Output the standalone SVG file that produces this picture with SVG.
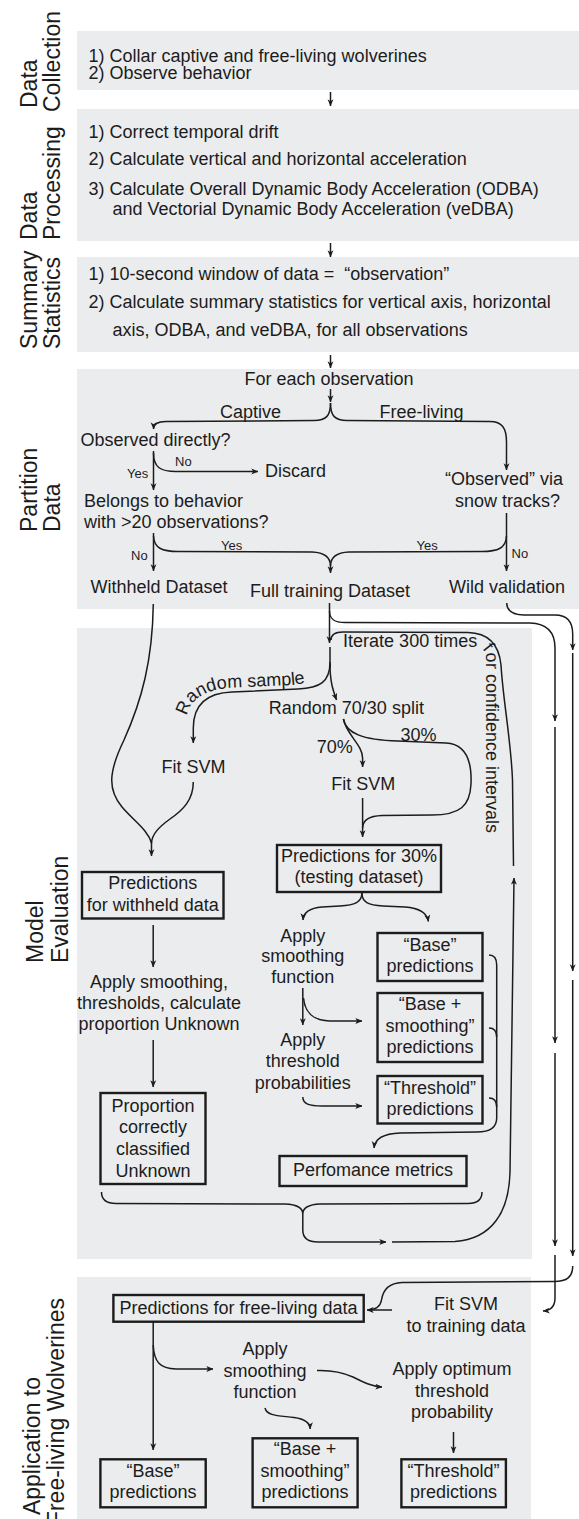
<svg xmlns="http://www.w3.org/2000/svg" width="579" height="1519" viewBox="0 0 579 1519">
<style>
text{font-family:"Liberation Sans",Arial,Helvetica,sans-serif;font-size:18px;fill:#1c1c1c}
.c{text-anchor:middle}
.e{text-anchor:end}
.s{font-size:13px}
.lbl{font-size:23px}
.panel{fill:#ebeced}
.box{fill:none;stroke:#1c1c1c;stroke-width:2.4}
.ln{fill:none;stroke:#1c1c1c;stroke-width:1.5}
.ar{marker-end:url(#ah)}
</style>
<defs>
<marker id="ah" viewBox="0 0 10 10" refX="9.5" refY="5" markerWidth="7" markerHeight="7" markerUnits="userSpaceOnUse" orient="auto">
<path d="M0,0.8 L10,5 L0,9.2 L2.6,5 Z" fill="#1c1c1c"/>
</marker>
<path id="rsPath" d="M187,716 C190,700 204,689 234,687.5 L292,685 C306,684 316,680 321,672"/>
<path id="itPath" d="M343,647 L474,647 Q486,647 486,659 L486,840"/>
</defs>

<!-- stage backgrounds -->
<g id="panels">
<rect class="panel" x="77" y="31" width="502" height="59"/>
<rect class="panel" x="77" y="109" width="502" height="132"/>
<rect class="panel" x="77" y="257" width="502" height="95"/>
<rect class="panel" x="77" y="369" width="502" height="240"/>
<rect class="panel" x="77" y="628" width="455" height="631"/>
<rect class="panel" x="77" y="1277" width="454" height="242"/>
</g>

<!-- stage labels -->
<g id="stage-labels" class="lbl">
<text class="lbl" transform="translate(37,108) rotate(-90)">Data</text>
<text class="lbl" transform="translate(60,112) rotate(-90)">Collection</text>
<text class="lbl" transform="translate(37,240) rotate(-90)">Data</text>
<text class="lbl" transform="translate(60,240) rotate(-90)">Processing</text>
<text class="lbl" transform="translate(37,349) rotate(-90)">Summary</text>
<text class="lbl" transform="translate(60,349) rotate(-90)">Statistics</text>
<text class="lbl" transform="translate(37,532) rotate(-90)">Partition</text>
<text class="lbl" transform="translate(60,532) rotate(-90)">Data</text>
<text class="lbl" transform="translate(42.5,963) rotate(-90)">Model</text>
<text class="lbl" transform="translate(68,963) rotate(-90)">Evaluation</text>
<text class="lbl e" transform="translate(40,1377) rotate(-90)">Application to</text>
<text class="lbl e" transform="translate(64,1298) rotate(-90)">Free-living Wolverines</text>
</g>

<g id="collection">
<text x="88.5" y="62">1) Collar captive and free-living wolverines</text>
<text x="88.5" y="79">2) Observe behavior</text>
</g>

<g id="processing">
<text x="88.5" y="138">1) Correct temporal drift</text>
<text x="88.5" y="165">2) Calculate vertical and horizontal acceleration</text>
<text x="88.5" y="195">3) Calculate Overall Dynamic Body Acceleration (ODBA)</text>
<text x="112.5" y="215">and Vectorial Dynamic Body Acceleration (veDBA)</text>
</g>

<g id="summary">
<text x="88.5" y="280">1) 10-second window of data = &#160;“observation”</text>
<text x="88.5" y="308">2) Calculate summary statistics for vertical axis, horizontal</text>
<text x="112.5" y="336">axis, ODBA, and veDBA, for all observations</text>
</g>

<g id="for-each"><text class="c" x="329" y="385">For each observation</text></g>
<g id="captive-label"><text class="c" x="250.5" y="418">Captive</text></g>
<g id="free-living-label"><text class="c" x="421.5" y="418">Free-living</text></g>
<g id="observed-directly"><text x="80.5" y="446">Observed directly?</text></g>
<g id="discard"><text x="265" y="477">Discard</text></g>
<g id="belongs"><text x="84" y="507">Belongs to behavior</text><text x="84" y="528">with &gt;20 observations?</text></g>
<g id="snow-tracks"><text class="c" x="504" y="485">“Observed” via</text><text class="c" x="507.5" y="507">snow tracks?</text></g>
<g id="withheld-dataset"><text x="90.5" y="593">Withheld Dataset</text></g>
<g id="full-training"><text x="250" y="597">Full training Dataset</text></g>
<g id="wild-validation"><text x="449" y="593">Wild validation</text></g>

<g id="branch-labels" class="s">
<text class="s" x="175" y="466">No</text>
<text class="s" x="127" y="478">Yes</text>
<text class="s" x="131" y="560">No</text>
<text class="s" x="221" y="550">Yes</text>
<text class="s" x="416.5" y="550">Yes</text>
<text class="s" x="511.5" y="558">No</text>
</g>

<g id="iterate-label"><text><textPath href="#itPath">Iterate 300 times for confidence intervals</textPath></text></g>
<g id="random-sample-label"><text><textPath href="#rsPath">Random sample</textPath></text></g>
<g id="split"><text x="268.8" y="714">Random 70/30 split</text></g>
<g id="pct70"><text x="316.8" y="753">70%</text></g>
<g id="pct30"><text x="400.5" y="740.5">30%</text></g>
<g id="fit-svm-a"><text x="161.4" y="772.7">Fit SVM</text></g>
<g id="fit-svm-b"><text x="331.2" y="790">Fit SVM</text></g>

<g id="pred-withheld"><rect class="box" x="82" y="872" width="141.5" height="46.5"/><text class="c" x="152.7" y="888.5">Predictions</text><text class="c" x="152.7" y="910.5">for withheld data</text></g>
<g id="pred-30"><rect class="box" x="277" y="845" width="164" height="47"/><text class="c" x="359" y="862">Predictions for 30%</text><text class="c" x="359" y="883">(testing dataset)</text></g>
<g id="apply-all"><text class="c" x="159" y="988">Apply smoothing,</text><text class="c" x="159" y="1009">thresholds, calculate</text><text class="c" x="159" y="1030">proportion Unknown</text></g>
<g id="apply-smooth-a"><text class="c" x="302.8" y="942">Apply</text><text class="c" x="302.8" y="962">smoothing</text><text class="c" x="302.8" y="983">function</text></g>
<g id="apply-thresh-a"><text class="c" x="302.8" y="1046">Apply</text><text class="c" x="302.8" y="1067">threshold</text><text class="c" x="302.8" y="1089">probabilities</text></g>
<g id="base-a"><rect class="box" x="377.5" y="933" width="105" height="48"/><text class="c" x="430" y="951">“Base”</text><text class="c" x="430" y="972">predictions</text></g>
<g id="base-smooth-a"><rect class="box" x="377.5" y="993" width="105" height="69"/><text class="c" x="430" y="1010">“Base +</text><text class="c" x="430" y="1032">smoothing”</text><text class="c" x="430" y="1053">predictions</text></g>
<g id="threshold-a"><rect class="box" x="377.5" y="1076" width="105" height="47.5"/><text class="c" x="430" y="1093.5">“Threshold”</text><text class="c" x="430" y="1115">predictions</text></g>
<g id="proportion"><rect class="box" x="100.5" y="1093" width="105" height="91"/><text class="c" x="153" y="1111.7">Proportion</text><text class="c" x="153" y="1133.3">correctly</text><text class="c" x="153" y="1155">classified</text><text class="c" x="153" y="1176.7">Unknown</text></g>
<g id="performance"><rect class="box" x="279.5" y="1156" width="187" height="30"/><text class="c" x="373" y="1176">Perfomance metrics</text></g>

<g id="pred-free"><rect class="box" x="113.4" y="1295" width="250.3" height="26.7"/><text class="c" x="238.5" y="1314">Predictions for free-living data</text></g>
<g id="fit-svm-final"><text class="c" x="466" y="1310">Fit SVM</text><text class="c" x="466" y="1331.7">to training data</text></g>
<g id="apply-smooth-b"><text class="c" x="265" y="1355">Apply</text><text class="c" x="265" y="1377">smoothing</text><text class="c" x="265" y="1398">function</text></g>
<g id="apply-opt"><text class="c" x="452" y="1375">Apply optimum</text><text class="c" x="452" y="1397">threshold</text><text class="c" x="452" y="1418">probability</text></g>
<g id="base-b"><rect class="box" x="100.4" y="1459.3" width="105.3" height="48"/><text class="c" x="153" y="1476.7">“Base”</text><text class="c" x="153" y="1498.3">predictions</text></g>
<g id="base-smooth-b"><rect class="box" x="252.6" y="1438.3" width="105" height="69"/><text class="c" x="305" y="1455">“Base +</text><text class="c" x="305" y="1476.7">smoothing”</text><text class="c" x="305" y="1498.3">predictions</text></g>
<g id="threshold-b"><rect class="box" x="401.4" y="1459.3" width="104.5" height="48"/><text class="c" x="453.6" y="1476.7">“Threshold”</text><text class="c" x="453.6" y="1498.3">predictions</text></g>

<g id="connectors" class="ln">
<!-- between stages -->
<path class="ln ar" d="M330.5,92 L330.5,106"/>
<path class="ln ar" d="M330.5,243 L330.5,257"/>
<path class="ln ar" d="M330.5,355 L330.5,368"/>
<!-- partition -->
<path class="ln ar" d="M330.5,389 L330.5,402"/>
<path class="ln ar" d="M330.5,403 C330.5,416 326,420.5 314,420.5 L166,421.5 C158,421.5 153.5,424 153.5,429"/>
<path class="ln ar" d="M330.5,403 C330.5,416 335,420.5 347,420.5 L490,421.5 C502,421.5 506.5,428 506.5,442 L506.5,470"/>
<path class="ln ar" d="M153.5,451 L153.5,490"/>
<path class="ln ar" d="M153.5,453 C153.5,467 160,471.5 176,471.5 L258,471.5"/>
<path class="ln ar" d="M153.5,533 L153.5,571"/>
<path class="ln ar" d="M506.5,513 L506.5,571"/>
<path class="ln ar" d="M153.5,536 C154,548 162,551.5 178,551.5 L312,552 C325,552.5 330.5,557 330.5,566 L330.5,573"/>
<path class="ln" d="M506.5,536 C506,548 498,551.5 482,551.5 L349,552 C336,552.5 330.5,557 330.5,566"/>
<!-- training / validation routes -->
<path class="ln ar" d="M329.5,603 L329.5,643"/>
<path class="ln ar" d="M329.5,611 C329.5,619 334,622.5 345,622.5 L530,623 C547,623.5 555,632 555,648 L555,721"/>
<path class="ln ar" d="M506.7,603 C507,611 512,615 524,615 L555,615 C567,615 572.7,622 572.7,634 L572.7,650"/>
<path class="ln ar" d="M555,727 L555,1043"/>
<path class="ln ar" d="M555,1053 L555,1246"/>
<path class="ln ar" d="M555,1255 L555,1298 C555,1306 551,1310.5 543,1311"/>
<path class="ln ar" d="M572.7,653 L572.7,971"/>
<path class="ln ar" d="M572.7,980 L572.7,1256"/>
<path class="ln ar" d="M572.7,1266 C572.7,1277 567,1281.5 554,1281.5 L402,1282.5 C389,1283 383,1290 381.5,1300 C380.5,1306 376,1310 367,1310"/>
<path class="ln" d="M392,1310 L372,1310"/>
<!-- model evaluation -->
<path class="ln" d="M330,647 L330,668"/>
<path class="ln ar" d="M330,662 C330,682 320,688 298,689 L232,692 C206,693 193.3,705 193.3,728 L193.3,743"/>
<path class="ln ar" d="M330,664 C330,682 333,690 336.5,700"/>
<path class="ln ar" d="M343.4,719 C346,734 362.6,745 362.6,758 L362.6,767"/>
<path class="ln" d="M343.4,719 C346,733 362,740 398,741 L446,743 C465,744 472,760 471,784 C470,806 460,815 432,815 L382,815.5 C369,816 362.6,820 362.6,828"/>
<path class="ln ar" d="M362.6,798 L362.6,837"/>
<path class="ln" d="M193.3,782 C193.3,800 183,810 170,819 C159,827 152,834 151.5,843"/>
<path class="ln" d="M153.3,604 C152.5,660 142,700 124,740 C108,773 108,790 122,807 C134,821 148,830 151.5,843"/>
<path class="ln ar" d="M151.5,842 L151.5,856"/>
<path class="ln" d="M331,640 C331,634 335,632 343,632 L468,632.5 C489,633 499,645 501,665 C503,700 511,740 512.5,780 L513.5,866"/>
<path class="ln ar" d="M392,1242 L455,1241.5 C492,1239 509,1212 510,1172 L514,878"/>
<path class="ln ar" d="M302.8,1214 L302.8,1230 C302.8,1238.5 308,1242 318,1242 L386,1242"/>
<path class="ln" d="M101.5,1192 C101.5,1200 106,1203.5 116,1203.5 L285,1204 C297,1204.5 302.8,1208 302.8,1214 C302.8,1208 309,1204.5 320,1204 L468,1203.5 C477,1203.5 482,1200 482,1192"/>
<path class="ln ar" d="M361.9,893 C361.9,902 355,905.5 340,906 L322,907 C310,908 303.5,912 303,920"/>
<path class="ln ar" d="M361.9,893 C361.9,902 368,905.5 383,906 L405,907 C419,908 427,913 428.4,921.5"/>
<path class="ln ar" d="M153.2,925 L153.2,967"/>
<path class="ln ar" d="M153.2,1040 L153.2,1087"/>
<path class="ln ar" d="M302.8,988 L302.8,1025"/>
<path class="ln ar" d="M303.5,998 C305,1013 313,1020.5 330,1021 L362,1021"/>
<path class="ln ar" d="M302.8,1097 C303,1104 309,1106 322,1106 L362,1106"/>
<path class="ln ar" d="M489,955 C494,955 496.7,958 496.7,965 L496.7,1118 C496.7,1127 491,1132 477,1132 L400,1133 C386,1133.5 375,1138 374,1148"/>
<path class="ln" d="M489,1028 C494,1028 496.7,1031 496.7,1037"/>
<path class="ln" d="M489,1098 C494,1098 496.7,1101 496.7,1107"/>
<!-- application -->
<path class="ln ar" d="M153.2,1322 L153.2,1450"/>
<path class="ln ar" d="M153.2,1345 C154,1362 160,1368.5 176,1369 L213,1369"/>
<path class="ln ar" d="M317,1370.5 C332,1370 342,1372 353,1377 C365,1383 372,1386.5 382,1387"/>
<path class="ln ar" d="M265,1408 C267,1416 278,1415.5 294,1417.5 C305,1419 310,1423 310.2,1429"/>
<path class="ln ar" d="M453.5,1432 L453.5,1453"/>
</g>
</svg>
